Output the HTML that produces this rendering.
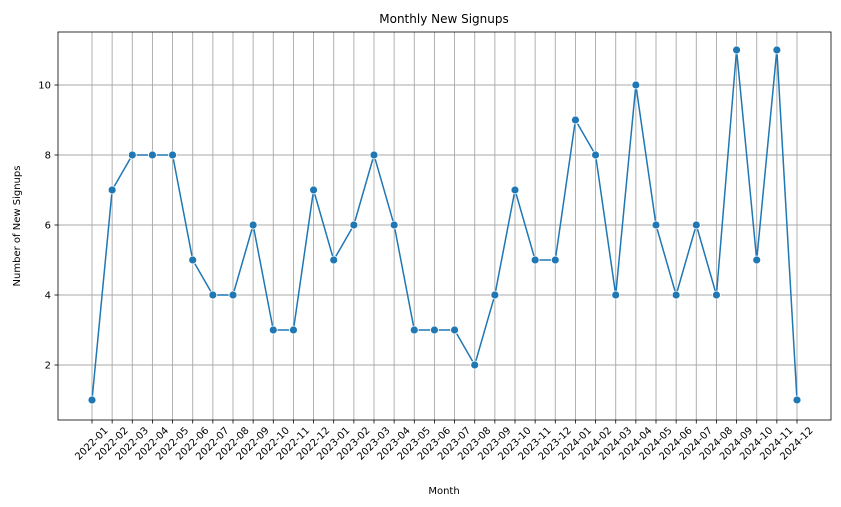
<!DOCTYPE html>
<html><head><meta charset="utf-8"><style>
body{margin:0;background:#fff;}
svg{display:block;font-family:"DejaVu Sans","Liberation Sans",sans-serif;}
</style></head><body>
<svg id="chart" width="841" height="507">
<text x="444" y="23" text-anchor="middle" font-size="12">Monthly New Signups</text>
<text x="444" y="494" text-anchor="middle" font-size="10">Month</text>
<text transform="translate(20,226) rotate(-90)" text-anchor="middle" font-size="10">Number of New Signups</text>
<g id="grid"></g><g id="axes"></g><g id="series"></g>
</svg>
<script>
const months = [];
for (const y of [2022, 2023, 2024]) for (let m = 1; m <= 12; m++) months.push(y + '-' + String(m).padStart(2, '0'));
const signups = [1,7,8,8,8,5,4,4,6,3,3,7, 5,6,8,6,3,3,3,2,4,7,5,5, 9,8,4,10,6,4,6,4,11,5,11,1];
const yTicks = [2,4,6,8,10];

const L=58, R=831, T=32, B=420;
const NS='http://www.w3.org/2000/svg';
const xS = i => 92 + i*(797-92)/(months.length-1);
const yS = v => 435 - 35*v;
function mk(tag, attrs, parent){const e=document.createElementNS(NS,tag);for(const k in attrs)e.setAttribute(k,attrs[k]);parent.appendChild(e);return e;}
const grid=document.getElementById('grid'), axes=document.getElementById('axes'), series=document.getElementById('series');

months.forEach((m,i)=>{
  const x=xS(i);
  const g=mk('line',{x1:x,x2:x,y1:T,y2:B,stroke:'#a8a8a8','stroke-width':0.9},grid);
  
  
  mk('line',{x1:x,x2:x,y1:B,y2:B+3.5,stroke:'#000','stroke-width':0.8},axes);
  const t=mk('text',{x:0,y:0,'text-anchor':'middle','dominant-baseline':'central','font-size':10,transform:`translate(${x},${B+24}) rotate(-45)`},axes);
  t.textContent=m;
  
  
});
yTicks.forEach(v=>{
  const y=yS(v);
  const g=mk('line',{x1:L,x2:R,y1:y,y2:y,stroke:'#a8a8a8','stroke-width':0.9},grid);
  
  
  mk('line',{x1:L-3.5,x2:L,y1:y,y2:y,stroke:'#000','stroke-width':0.8},axes);
  const t=mk('text',{x:L-7,y:y+3.5,'text-anchor':'end','font-size':10},axes);
  t.textContent=v;
  
  
});
const frame=mk('rect',{x:L,y:T,width:R-L,height:B-T,fill:'none',stroke:'#000','stroke-width':0.8},axes);



const pts=signups.map((v,i)=>xS(i)+','+yS(v)).join(' ');
const line=mk('polyline',{points:pts,fill:'none',stroke:'#1f77b4','stroke-width':1.5},series);


signups.forEach((v,i)=>{
  const c=mk('circle',{cx:xS(i),cy:yS(v),r:4,fill:'#1f77b4',stroke:'#fff','stroke-width':0.8},series);
  
  
});
</script>
</body></html>
